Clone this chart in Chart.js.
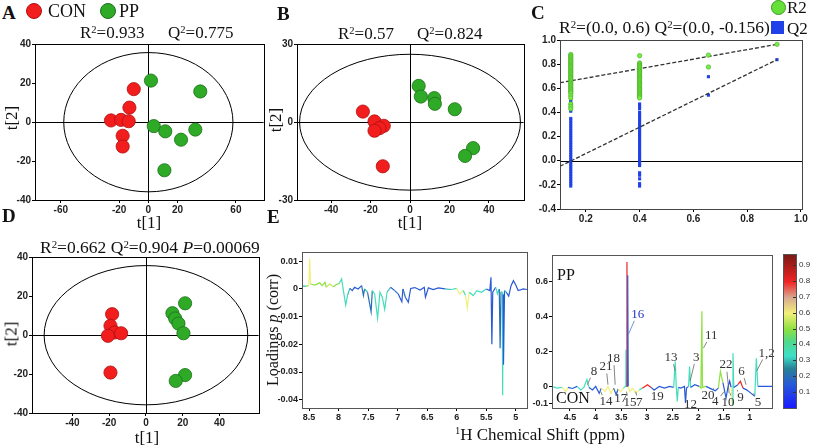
<!DOCTYPE html>
<html>
<head>
<meta charset="utf-8">
<script src="https://cdn.jsdelivr.net/npm/chart.js@4.4.1/dist/chart.umd.min.js"></script>
<style>
  body { margin: 0; background: #fff; }
  #page { position: relative; width: 813px; height: 447px; overflow: hidden; font-family: "Liberation Serif", serif; color: #111; }
  canvas { position: absolute; }
  .t { position: absolute; white-space: nowrap; line-height: 1; }
  .c { transform: translate(-50%, -50%); }
  .rot { transform: translate(-50%, -50%) rotate(-90deg); }
  .letter { font-weight: bold; font-size: 19px; }
  .stat { font-size: 17px; }
  .axt { font-size: 17px; }
  .dot { position: absolute; border-radius: 50%; }
  sup { font-size: 62%; vertical-align: 0.5em; line-height: 0; }
  .cb { position: absolute; font: 8px "Liberation Sans", sans-serif; color: #333; }
  .cbt { position: absolute; width: 3px; height: 1px; background: #333; }
</style>
</head>
<body>
<div id="page">
  <canvas id="chartA"></canvas>
  <canvas id="chartB"></canvas>
  <canvas id="chartC"></canvas>
  <canvas id="chartD"></canvas>
  <canvas id="chartE1"></canvas>
  <canvas id="chartE2"></canvas>

  <!-- panel A -->
  <div class="t letter" style="left:2px;top:3px">A</div>
  <div class="dot" style="left:26px;top:3px;width:14px;height:14px;background:#f21d1d;border:1px solid #b01010"></div>
  <div class="t" style="left:48px;top:2px;font-size:18px">CON</div>
  <div class="dot" style="left:100px;top:3px;width:14px;height:14px;background:#2eaa26;border:1px solid #1a701a"></div>
  <div class="t" style="left:119px;top:2px;font-size:18px">PP</div>
  <div class="t stat" style="left:80px;top:24px">R<sup>2</sup>=0.933</div>
  <div class="t stat" style="left:168px;top:24px">Q<sup>2</sup>=0.775</div>
  <div class="t axt rot" style="left:11px;top:118px">t[2]</div>
  <div class="t axt c" style="left:149px;top:222px">t[1]</div>

  <!-- panel B -->
  <div class="t letter" style="left:277px;top:4px">B</div>
  <div class="t stat" style="left:338px;top:25px">R<sup>2</sup>=0.57</div>
  <div class="t stat" style="left:417px;top:25px">Q<sup>2</sup>=0.824</div>
  <div class="t axt rot" style="left:275px;top:120px">t[2]</div>
  <div class="t axt c" style="left:410px;top:222px">t[1]</div>

  <!-- panel C -->
  <div class="t letter" style="left:531px;top:3px">C</div>
  <div class="t stat" style="left:559px;top:19px;font-size:17.5px">R<sup>2</sup>=(0.0, 0.6) Q<sup>2</sup>=(0.0, -0.156)</div>
  <div class="dot" style="left:771px;top:0px;width:13px;height:13px;background:#66e038;border:1px solid #3a9a22"></div>
  <div class="t" style="left:787px;top:-1px;font-size:17px">R2</div>
  <div style="position:absolute;left:771px;top:21px;width:13px;height:13px;background:#2040e8"></div>
  <div class="t" style="left:787px;top:20px;font-size:17px">Q2</div>

  <!-- panel D -->
  <div class="t letter" style="left:2px;top:206px">D</div>
  <div class="t stat" style="left:40px;top:239px;font-size:17.5px">R<sup>2</sup>=0.662 Q<sup>2</sup>=0.904 <i>P</i>=0.00069</div>
  <div class="t axt rot" style="left:11px;top:334px">t[2]</div>
  <div class="t axt c" style="left:147px;top:437px">t[1]</div>

  <!-- panel E -->
  <div class="t letter" style="left:267px;top:207px">E</div>
  <div class="t rot" style="left:273px;top:330px;font-size:16px">Loadings <i>p</i> (corr)</div>
  <div class="t axt c" style="left:540px;top:434px"><sup>1</sup>H Chemical Shift (ppm)</div>
  <div class="t" style="left:557px;top:267px;font-size:16px">PP</div>
  <div class="t" style="left:556px;top:390px;font-size:16px">CON</div>
  <div id="colorbar" style="position:absolute;left:783px;top:254px;width:12px;height:153px;border:1px solid #555"></div>
</div>

<script>
// ---- data ----
// score plots (t[1], t[2])
const conA = [[-10, 17], [-13, 7.5], [-25.6, 0.9], [-18.7, 1.2], [-13.5, 0.5], [-17.6, -7], [-17.6, -12.5]];
const ppA = [[1.8, 21.4], [35.6, 15.8], [3.7, -2], [11.6, -4.7], [22.4, -9], [32.2, -3.8], [11, -24.7]];
const conB = [[-23.9, 4.1], [-18, 0.3], [-13.3, -1.4], [-15.5, -2.3], [-18, -3.3], [-13.8, -17]];
const ppB = [[4.4, 14], [5.5, 9.9], [12.3, 9.3], [12.6, 7.1], [22.7, 5], [32, -10], [27.9, -13]];
const conD = [[-18.4, 10.8], [-19.3, 4.8], [-17.1, 1.4], [-13.5, 1], [-20.7, -0.3], [-19.3, -19.2]];
const ppD = [[21.3, 16.4], [14.4, 11.3], [15.9, 8.6], [17.7, 6], [20.4, 1], [21.3, -20.5], [16.2, -23.5]];
// Hotelling T2 ellipse half-axes
const ellipseA = [58, 35.8];
const ellipseB = [56, 26.2];
const ellipseD = [55.4, 35.8];

const ticksAx = [-60, -20, 0, 20, 60];
const ticksAy = [-40, -20, 0, 20, 40];
const ticksBx = [-40, -20, 0, 20, 40];
const ticksBy = [-30, 0, 30];
const ticksDx = [-40, -20, 0, 20, 40];
const ticksDy = [-40, -20, 0, 20, 40];

// permutation test
const permX = [0.144, 0.4, 0.656, 0.911];
const r2Perm = [
  [0.88, 0.87, 0.86, 0.85, 0.84, 0.83, 0.82, 0.81, 0.80, 0.79, 0.78, 0.77, 0.76, 0.75, 0.74, 0.73, 0.72, 0.71, 0.70, 0.69, 0.68, 0.67, 0.66, 0.65, 0.64, 0.63, 0.62, 0.61, 0.60, 0.59, 0.58, 0.57, 0.56, 0.54, 0.52, 0.47, 0.45, 0.43],
  [0.87, 0.81, 0.80, 0.79, 0.78, 0.77, 0.76, 0.75, 0.74, 0.73, 0.72, 0.71, 0.70, 0.69, 0.68, 0.67, 0.66, 0.65, 0.64, 0.63, 0.62, 0.61, 0.60, 0.59, 0.58, 0.57, 0.56, 0.55, 0.54, 0.53, 0.52],
  [0.875, 0.776],
  [0.964]
];
const q2Perm = [
  [0.63, 0.61, 0.59, 0.57, 0.55, 0.53, 0.51, 0.49, 0.47, 0.45, 0.43, 0.41, 0.35, 0.33, 0.31, 0.29, 0.27, 0.25, 0.23, 0.21, 0.19, 0.17, 0.15, 0.13, 0.11, 0.09, 0.07, 0.05, 0.03, 0.01, -0.01, -0.03, -0.05, -0.07, -0.09, -0.11, -0.13, -0.15, -0.17, -0.19, -0.21],
  [0.47, 0.45, 0.43, 0.40, 0.38, 0.36, 0.34, 0.32, 0.30, 0.28, 0.26, 0.24, 0.22, 0.20, 0.18, 0.16, 0.14, 0.12, 0.10, 0.08, 0.06, 0.04, 0.02, 0.00, -0.02, -0.04, -0.10, -0.12, -0.15, -0.19, -0.21],
  [0.696, 0.543],
  [0.837]
];
const r2Fit = [[0.104, 0.646], [0.911, 0.964]];
const q2Fit = [[0.104, -0.046], [0.911, 0.837]];
const ticksCx = [0.2, 0.4, 0.6, 0.8, 1.0];
const ticksCy = [-0.4, -0.2, 0, 0.2, 0.4, 0.6, 0.8, 1.0];

// loadings, 8.6 - 4.8 ppm
const leftShift = [8.62, 8.55, 8.505, 8.49, 8.475, 8.40, 8.32, 8.28, 8.23, 8.21, 8.15, 8.09, 8.05, 7.99, 7.95, 7.91, 7.88, 7.85, 7.81, 7.77, 7.73, 7.67, 7.61, 7.58, 7.56, 7.51, 7.45, 7.43, 7.39, 7.34, 7.30, 7.26, 7.22, 7.18, 7.12, 7.05, 6.99, 6.93, 6.91, 6.87, 6.82, 6.78, 6.71, 6.62, 6.55, 6.53, 6.48, 6.40, 6.31, 6.20, 6.09, 6.00, 5.95, 5.89, 5.85, 5.82, 5.79, 5.72, 5.66, 5.58, 5.50, 5.44, 5.42, 5.405, 5.39, 5.34, 5.31, 5.28, 5.265, 5.25, 5.23, 5.222, 5.215, 5.208, 5.19, 5.16, 5.12, 5.08, 5.04, 5.00, 4.96, 4.87, 4.81];
const leftLoading = [0.0010, 0.0010, 0.0012, 0.0110, 0.0018, 0.0014, 0.0022, 0.0012, 0.0024, 0.0006, 0.0018, 0.0008, 0.0014, 0.0020, 0.0036, -0.0018, -0.0058, -0.0024, 0.0002, -0.0006, 0.0006, 0.0000, 0.0012, -0.0024, 0.0000, -0.0012, -0.0082, -0.0006, -0.0018, -0.0106, -0.0012, -0.0030, -0.0074, -0.0012, 0.0006, -0.0006, -0.0018, -0.0046, 0.0000, -0.0030, -0.0048, 0.0002, 0.0005, -0.0004, 0.0006, -0.0030, 0.0004, -0.0002, 0.0004, 0.0000, -0.0002, 0.0002, -0.0018, -0.0006, -0.0024, -0.0070, -0.0012, -0.0024, -0.0006, -0.0012, 0.0000, -0.0006, 0.0042, -0.0200, -0.0012, 0.0006, -0.0018, 0.0000, -0.0214, -0.0010, -0.0012, -0.0384, -0.0020, -0.0274, -0.0006, -0.0012, -0.0026, 0.0012, 0.0030, 0.0014, -0.0006, 0.0000, -0.0002];
const leftCorr = [0.3, 0.3, 0.5, 0.6, 0.5, 0.55, 0.5, 0.4, 0.5, 0.15, 0.55, 0.3, 0.5, 0.5, 0.35, 0.35, 0.35, 0.3, 0.15, 0.15, 0.15, 0.15, 0.15, 0.2, 0.15, 0.3, 0.2, 0.3, 0.35, 0.35, 0.35, 0.35, 0.35, 0.3, 0.15, 0.15, 0.2, 0.15, 0.15, 0.2, 0.15, 0.15, 0.15, 0.15, 0.15, 0.15, 0.15, 0.15, 0.15, 0.15, 0.3, 0.35, 0.6, 0.35, 0.35, 0.6, 0.35, 0.35, 0.3, 0.35, 0.2, 0.15, 0.15, 0.15, 0.15, 0.3, 0.35, 0.3, 0.2, 0.3, 0.35, 0.35, 0.2, 0.15, 0.3, 0.3, 0.15, 0.15, 0.15, 0.15, 0.15, 0.15, 0.15];

// loadings, 4.85 - 0.56 ppm
const rightShift = [4.85, 4.75, 4.65, 4.58, 4.54, 4.45, 4.36, 4.29, 4.23, 4.17, 4.13, 4.06, 4.00, 3.93, 3.89, 3.82, 3.76, 3.70, 3.65, 3.60, 3.56, 3.51, 3.46, 3.42, 3.41, 3.40, 3.39, 3.385, 3.375, 3.365, 3.34, 3.28, 3.22, 3.15, 3.09, 2.99, 2.92, 2.86, 2.76, 2.66, 2.56, 2.48, 2.45, 2.43, 2.41, 2.39, 2.34, 2.27, 2.25, 2.23, 2.19, 2.17, 2.15, 2.07, 1.98, 1.95, 1.93, 1.92, 1.85, 1.75, 1.67, 1.61, 1.57, 1.52, 1.46, 1.42, 1.39, 1.36, 1.34, 1.325, 1.31, 1.23, 1.18, 1.13, 1.06, 0.97, 0.90, 0.87, 0.84, 0.71, 0.565];
const rightLoading = [0.000, -0.010, -0.005, -0.030, -0.006, -0.012, 0.000, -0.020, -0.006, 0.040, -0.006, -0.020, 0.000, -0.040, -0.010, -0.028, 0.000, -0.040, -0.010, -0.048, -0.014, -0.030, -0.010, 0.000, 0.210, 0.000, 0.714, 0.000, 0.638, 0.000, -0.030, -0.010, -0.038, -0.020, -0.010, 0.010, -0.006, -0.020, 0.000, -0.010, 0.000, -0.006, 0.143, 0.000, -0.086, -0.006, -0.010, 0.000, -0.095, -0.010, 0.000, 0.114, -0.006, 0.010, 0.000, -0.010, 0.432, -0.006, 0.000, -0.014, -0.025, -0.010, 0.086, 0.020, -0.067, 0.000, 0.030, -0.006, -0.105, 0.190, -0.006, 0.010, 0.030, -0.010, -0.020, -0.040, -0.057, 0.162, 0.000, 0.000, 0.000];
const rightCorr = [0.15, 0.35, 0.3, 0.6, 0.35, 0.15, 0.15, 0.35, 0.3, 0.35, 0.3, 0.15, 0.15, 0.15, 0.35, 0.6, 0.35, 0.6, 0.35, 0.15, 0.6, 0.6, 0.35, 0.15, 0.35, 0.35, 0.8, 0.8, 0.15, 0.15, 0.6, 0.6, 0.6, 0.35, 0.15, 0.8, 0.15, 0.15, 0.15, 0.15, 0.15, 0.15, 0.35, 0.35, 0.35, 0.15, 0.15, 0.15, 0.15, 0.15, 0.15, 0.35, 0.35, 0.15, 0.15, 0.5, 0.5, 0.5, 0.15, 0.15, 0.15, 0.4, 0.5, 0.35, 0.15, 0.15, 0.1, 0.35, 0.6, 0.35, 0.35, 0.15, 0.8, 0.15, 0.15, 0.15, 0.15, 0.35, 0.35, 0.15, 0.15];

// assigned peaks: label position and the point its leader line goes to
const peakNames = ['16', '11', '13', '3', '1,2', '22', '6', '8', '21', '18', '14', '17', '15', '7', '19', '12', '20', '4', '10', '9', '5'];
const peakShift = [3.18, 1.75, 2.53, 2.04, 0.67, 1.46, 1.16, 4.03, 3.80, 3.65, 3.80, 3.51, 3.33, 3.15, 2.80, 2.15, 1.81, 1.67, 1.42, 1.18, 0.84];
const peakLevel = [0.413, 0.29, 0.166, 0.168, 0.19, 0.124, 0.086, 0.086, 0.114, 0.162, -0.086, -0.07, -0.091, -0.091, -0.061, -0.105, -0.051, -0.086, -0.091, -0.067, -0.091];
const leaderShift = [3.36, 1.90, 2.45, 2.16, 0.86, 1.40, 1.07, 4.16, 3.76, 3.62, 3.90, 3.59, 3.40, 3.22, 2.86, 2.24, 1.70, 1.50, 1.37, 1.24, 0.92];
const leaderLevel = [0.30, 0.22, 0.09, 0.03, 0.09, -0.04, 0.01, 0.01, 0.01, 0.01, -0.03, -0.03, -0.03, -0.03, -0.02, -0.07, -0.01, -0.03, -0.04, -0.02, -0.04];

const ticksE1x = [8.5, 8, 7.5, 7, 6.5, 6, 5.5, 5];
const ticksE1y = [-0.04, -0.03, -0.02, -0.01, 0, 0.01];
const ticksE2x = [4.5, 4, 3.5, 3, 2.5, 2, 1.5, 1];
const ticksE2y = [-0.1, 0, 0.2, 0.4, 0.6];
const colorbarTicks = [0.1, 0.2, 0.3, 0.4, 0.5, 0.6, 0.7, 0.8, 0.9];

// ---- colour map for |p(corr)| ----
const cmap = [[0, [26, 26, 255]], [0.15, [40, 90, 216]], [0.25, [40, 130, 150]], [0.33, [62, 224, 200]], [0.42, [80, 216, 140]], [0.5, [142, 224, 64]], [0.6, [242, 240, 122]], [0.7, [216, 168, 144]], [0.8, [240, 36, 36]], [0.97, [122, 26, 20]]];
function corrColor(v) {
  for (let i = 1; i < cmap.length; i++) {
    if (v <= cmap[i][0]) {
      const [a, ca] = cmap[i - 1], [b, cb] = cmap[i];
      const f = (v - a) / (b - a);
      const c = ca.map((x, k) => Math.round(x + (cb[k] - x) * f));
      return 'rgb(' + c.join(',') + ')';
    }
  }
  return 'rgb(' + cmap[cmap.length - 1][1].join(',') + ')';
}

document.getElementById('colorbar').style.background =
  'linear-gradient(to top, ' + cmap.map(s => 'rgb(' + s[1].join(',') + ') ' + (s[0] / 0.97 * 100).toFixed(1) + '%').join(', ') + ')';
const page = document.getElementById('page');
colorbarTicks.forEach(v => {
  const y = 408 - v * 159;
  const tk = document.createElement('div');
  tk.className = 'cbt';
  tk.style.left = '793px';
  tk.style.top = Math.round(y) + 'px';
  page.appendChild(tk);
  const d = document.createElement('div');
  d.className = 'cb';
  d.style.left = '799px';
  d.style.top = (y - 5) + 'px';
  d.textContent = v.toFixed(1);
  page.appendChild(d);
});

// ---- plugins ----
Chart.register({
  id: 'frame',
  defaults: { box: true },
  beforeDatasetsDraw(chart, args, opts) {
    const { ctx, chartArea: a, scales: { x, y } } = chart;
    ctx.save();
    ctx.strokeStyle = '#000';
    ctx.lineWidth = 1;
    if (opts.ellipse) {
      const cx = x.getPixelForValue(0), cy = y.getPixelForValue(0);
      const rx = Math.abs(x.getPixelForValue(opts.ellipse[0]) - cx);
      const ry = Math.abs(y.getPixelForValue(opts.ellipse[1]) - cy);
      ctx.beginPath();
      ctx.ellipse(cx, cy, rx, ry, 0, 0, Math.PI * 2);
      ctx.stroke();
    }
    if (opts.zeroX) {
      const px = Math.round(x.getPixelForValue(0)) + 0.5;
      ctx.beginPath(); ctx.moveTo(px, a.top); ctx.lineTo(px, a.bottom); ctx.stroke();
    }
    if (opts.zeroY) {
      const py = Math.round(y.getPixelForValue(0)) + 0.5;
      ctx.beginPath(); ctx.moveTo(a.left, py); ctx.lineTo(a.right, py); ctx.stroke();
    }
    ctx.restore();
  },
  afterDraw(chart, args, opts) {
    if (!opts.box) return;
    const { ctx, chartArea: a } = chart;
    ctx.save();
    ctx.strokeStyle = opts.boxColor || '#000';
    ctx.lineWidth = 1;
    ctx.strokeRect(Math.round(a.left) + 0.5, Math.round(a.top) + 0.5, Math.round(a.right - a.left), Math.round(a.bottom - a.top));
    ctx.restore();
  }
});

const peakLabelPlugin = {
  id: 'peakLabels',
  afterDatasetsDraw(chart) {
    const { ctx, scales: { x, y } } = chart;
    ctx.save();
    ctx.font = '13px "Liberation Serif"';
    ctx.textAlign = 'center';
    ctx.textBaseline = 'middle';
    ctx.lineWidth = 0.8;
    peakNames.forEach((name, i) => {
      const lx = x.getPixelForValue(peakShift[i]), ly = y.getPixelForValue(peakLevel[i]);
      const tx = x.getPixelForValue(leaderShift[i]), ty = y.getPixelForValue(leaderLevel[i]);
      const col = name === '16' ? '#2233cc' : '#333';
      // short leader from the label edge toward the peak
      const dx = tx - lx, dy = ty - ly, len = Math.hypot(dx, dy) || 1;
      ctx.strokeStyle = name === '16' ? '#5577cc' : '#666';
      ctx.beginPath();
      ctx.moveTo(lx + dx / len * 8, ly + dy / len * 7);
      ctx.lineTo(tx, ty);
      ctx.stroke();
      ctx.fillStyle = col;
      ctx.fillText(name, lx, ly);
    });
    ctx.restore();
  }
};

// ---- helpers ----
function axis(min, max, ticks, fmt, size, extra) {
  return Object.assign({
    type: 'linear', min, max,
    afterBuildTicks: s => { s.ticks = ticks.map(v => ({ value: v })); },
    grid: { display: true, drawOnChartArea: false, drawTicks: true, tickLength: 3, color: '#000' },
    border: { display: true, color: '#000' },
    ticks: { font: { family: 'Liberation Sans', size: size, weight: 'bold' }, color: '#222', padding: 1, maxRotation: 0, autoSkip: false, callback: v => fmt(v) }
  }, extra || {});
}

function mount(id, box, pad, config) {
  const cv = document.getElementById(id);
  const W = box.r - box.l + pad.l + pad.r, H = box.b - box.t + pad.t + pad.b;
  cv.width = W; cv.height = H;
  cv.style.left = (box.l - pad.l) + 'px';
  cv.style.top = (box.t - pad.t) + 'px';
  cv.style.width = W + 'px';
  cv.style.height = H + 'px';
  config.options.responsive = false;
  config.options.animation = false;
  config.options.devicePixelRatio = 1;
  config.options.layout = { padding: { top: pad.t, right: pad.r, left: 0, bottom: 0 } };
  config.options.scales.x.afterFit = s => { s.height = pad.b; };
  config.options.scales.y.afterFit = s => { s.width = pad.l; };
  config.options.plugins = Object.assign({ legend: { display: false }, tooltip: { enabled: false } }, config.options.plugins || {});
  return new Chart(cv, config);
}

const pts = arr => arr.map(([x, y]) => ({ x, y }));
function groupSet(data, fill, edge) {
  return { data: pts(data), pointRadius: 6.6, pointBackgroundColor: fill, pointBorderColor: edge, pointBorderWidth: 0.8 };
}
const redSet = d => groupSet(d, '#f21d1d', '#b01010');
const greenSet = d => groupSet(d, '#2eaa26', '#1a701a');
const str = v => String(v);

function scorePlot(id, box, con, pp, xr, yr, tx, ty, ell) {
  return mount(id, box, { l: 32, r: 6, t: 7, b: 16 }, {
    type: 'scatter',
    data: { datasets: [redSet(con), greenSet(pp)] },
    options: {
      scales: { x: axis(xr[0], xr[1], tx, str, 10), y: axis(yr[0], yr[1], ty, str, 10) },
      plugins: { frame: { ellipse: ell, zeroX: true, zeroY: true } }
    }
  });
}

scorePlot('chartA', { l: 35, t: 44, r: 265, b: 200 }, conA, ppA, [-77.7, 79], [-40, 40], ticksAx, ticksAy, ellipseA);
scorePlot('chartB', { l: 297, t: 44, r: 525, b: 200 }, conB, ppB, [-57.3, 57.6], [-30, 30], ticksBx, ticksBy, ellipseB);
scorePlot('chartD', { l: 32, t: 257, r: 260, b: 413 }, conD, ppD, [-62, 61.3], [-40, 40], ticksDx, ticksDy, ellipseD);

// permutation plot
const permPoints = cols => cols.flatMap((col, i) => col.map(v => ({ x: permX[i], y: v })));
mount('chartC', { l: 560, t: 40, r: 802, b: 209 }, { l: 28, r: 11, t: 7, b: 18 }, {
  type: 'scatter',
  data: {
    datasets: [
      { data: permPoints(r2Perm), pointRadius: 2.2, pointBackgroundColor: '#77ee44', pointBorderColor: '#44aa22', pointBorderWidth: 0.6 },
      { data: pts(r2Fit), showLine: true, pointRadius: 0, borderColor: '#333', borderWidth: 1.3, borderDash: [4, 2] },
      { data: pts(q2Fit), showLine: true, pointRadius: 0, borderColor: '#333', borderWidth: 1.3, borderDash: [4, 2] },
      { data: permPoints(q2Perm), pointStyle: 'rect', pointRadius: 2.2, pointBackgroundColor: '#2040e8', pointBorderColor: '#2040e8', pointBorderWidth: 0 }
    ]
  },
  options: {
    scales: {
      x: axis(0.104, 1.004, ticksCx, v => v.toFixed(1), 10),
      y: axis(-0.4, 1.0, ticksCy, v => v.toFixed(1), 10)
    },
    plugins: { frame: { zeroY: true, boxColor: '#444' } }
  }
});

// loading line plots
function spectrum(id, box, pad, shift, load, corr, xr, yr, tx, ty, extraPlugins) {
  return mount(id, box, pad, {
    type: 'line',
    data: {
      datasets: [{
        data: shift.map((s, i) => ({ x: s, y: load[i] })),
        pointRadius: 0, borderWidth: 1.2, tension: 0,
        borderColor: '#2a5ad8',
        segment: {
          borderColor: c => {
            const a = c.p0DataIndex, b = c.p1DataIndex;
            return corrColor(Math.abs(load[a]) > Math.abs(load[b]) ? corr[a] : corr[b]);
          }
        }
      }]
    },
    options: {
      scales: {
        x: axis(xr[0], xr[1], tx, str, 9, { reverse: true }),
        y: axis(yr[0], yr[1], ty, str, 9)
      },
      plugins: { frame: { boxColor: '#555' } }
    },
    plugins: extraPlugins || []
  });
}

spectrum('chartE1', { l: 302, t: 252, r: 527, b: 408 }, { l: 24, r: 4, t: 6, b: 16 },
  leftShift, leftLoading, leftCorr, [4.81, 8.62], [-0.043, 0.0132], ticksE1x, ticksE1y);
spectrum('chartE2', { l: 552, t: 255, r: 772, b: 408 }, { l: 24, r: 4, t: 6, b: 16 },
  rightShift, rightLoading, rightCorr, [0.565, 4.85], [-0.124, 0.752], ticksE2x, ticksE2y, [peakLabelPlugin]);
</script>
</body>
</html>
